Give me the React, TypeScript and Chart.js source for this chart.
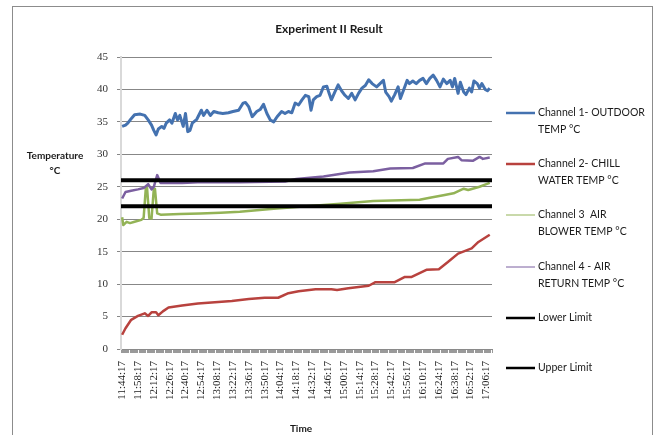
import React, { useEffect, useRef } from "react";
import { Chart, registerables } from "chart.js";

Chart.register(...registerables);

// x values are minutes after 11:44:17
const tickLabels = [
  "11:44:17", "11:58:17", "12:12:17", "12:26:17", "12:40:17", "12:54:17",
  "13:08:17", "13:22:17", "13:36:17", "13:50:17", "14:04:17", "14:18:17",
  "14:32:17", "14:46:17", "15:00:17", "15:14:17", "15:28:17", "15:42:17",
  "15:56:17", "16:10:17", "16:24:17", "16:38:17", "16:52:17", "17:06:17",
];

const ch1Min = [
  0, 3, 5, 8, 11, 16, 20, 23, 26, 28, 30, 32, 35, 37, 39, 42, 44, 47, 49, 51,
  54, 56, 58, 60, 62, 66, 70, 72, 75, 78, 81, 85, 89, 94, 98, 103, 107, 109, 112, 115,
  119, 122, 125, 128, 131, 134, 137, 141, 144, 147, 150, 153, 156, 159, 162, 165, 167, 169, 172, 175,
  178, 181, 183, 185, 188, 191, 194, 197, 200, 203, 206, 209, 212, 215, 218, 221, 225, 228, 231, 233,
  236, 238, 241, 244, 246, 249, 252, 254, 257, 260, 263, 266, 269, 272, 275, 278, 281, 284, 287, 290,
  292, 294, 297, 299, 302, 304, 307, 309, 311, 314, 316, 318, 321, 323, 325,
];
const ch1Val = [
  34.3, 34.5, 34.8, 35.5, 36.1, 36.2, 36.0, 35.3, 34.5, 33.7, 33.0, 33.9, 34.3, 34.0, 34.8, 35.3, 34.8, 36.3, 35.3, 36.0,
  34.3, 36.3, 33.5, 33.7, 34.8, 35.4, 36.8, 36.0, 36.8, 36.0, 36.6, 36.4, 36.3, 36.4, 36.6, 36.8, 37.9, 38.0, 37.3, 35.8,
  36.6, 36.9, 37.7, 36.3, 35.3, 35.0, 35.8, 36.6, 36.3, 36.6, 36.4, 37.9, 37.6, 38.4, 39.1, 38.9, 36.8, 38.4, 38.9, 39.1,
  40.4, 40.5, 39.4, 38.4, 39.6, 40.7, 39.8, 39.1, 38.6, 39.4, 38.4, 39.4, 40.2, 40.6, 41.5, 40.9, 40.4, 40.9, 41.4, 39.6,
  38.9, 38.2, 39.2, 40.4, 38.6, 40.0, 41.4, 40.9, 41.3, 40.9, 41.4, 41.7, 40.9, 41.7, 42.2, 41.4, 40.4, 41.6, 40.9, 41.4,
  40.4, 41.7, 39.4, 41.1, 39.6, 39.2, 40.2, 39.6, 41.3, 40.9, 40.2, 40.9, 40.0, 39.8, 40.2,
];

const ch2Min = [
  0, 3, 8, 14, 20, 23, 26, 30, 32, 36, 41, 53, 67, 82, 97, 112, 126, 138, 147, 156,
  171, 185, 190, 200, 218, 224, 241, 250, 256, 269, 280, 288, 297, 309, 315, 325,
];
const ch2Val = [
  2.2, 3.2, 4.5, 5.1, 5.5, 5.1, 5.65, 5.65, 5.2, 5.8, 6.4, 6.7, 7.0, 7.2, 7.4, 7.7, 7.9, 7.9, 8.6, 8.9,
  9.2, 9.2, 9.1, 9.35, 9.75, 10.3, 10.3, 11.1, 11.1, 12.2, 12.3, 13.4, 14.7, 15.5, 16.5, 17.6,
];

const ch3Min = [
  0, 1, 4, 7, 11, 17, 19, 21, 22, 24, 26, 28, 29, 31, 34, 51, 69, 87, 104, 134,
  163, 193, 222, 263, 272, 284, 293, 302, 306, 316, 322, 325,
];
const ch3Val = [
  20.3, 19.1, 19.6, 19.4, 19.6, 19.9, 20.2, 24.9, 24.9, 20.2, 20.1, 24.7, 24.7, 20.9, 20.7, 20.8, 20.9, 21.0, 21.15, 21.6,
  22.0, 22.4, 22.8, 23.0, 23.3, 23.7, 24.0, 24.7, 24.5, 25.0, 25.4, 25.6,
];

const ch4Min = [
  0, 3, 8, 14, 19, 23, 26, 28, 31, 34, 41, 53, 67, 82, 104, 144, 154, 178, 201, 222,
  237, 257, 268, 284, 288, 297, 300, 310, 316, 319, 325,
];
const ch4Val = [
  23.2, 24.2, 24.4, 24.6, 24.8, 25.4, 24.6, 25.0, 26.8, 25.6, 25.6, 25.6, 25.7, 25.75, 25.7, 25.8, 26.2, 26.6, 27.2, 27.4,
  27.8, 27.9, 28.6, 28.6, 29.3, 29.6, 29.1, 29.0, 29.6, 29.3, 29.5,
];

const limitMin = [-1, 327];
const lowerVal = [22, 22];
const upperVal = [26, 26];

const legendItems = [
  { lines: ["Channel 1- OUTDOOR", "TEMP °C"], color: "#4472B0", width: 2.5 },
  { lines: ["Channel 2- CHILL", "WATER TEMP °C"], color: "#B8423E", width: 2.5 },
  { lines: ["Channel 3  AIR", "BLOWER TEMP °C"], color: "#93B356", width: 1 },
  { lines: ["Channel 4 - AIR", "RETURN TEMP °C"], color: "#7B5FA0", width: 1 },
  { lines: ["Lower Limit"], color: "#000000", width: 2.5 },
  { lines: ["Upper Limit"], color: "#000000", width: 2.5 },
];
const legendY = [113, 164, 215, 267, 318, 368];

const pts = (xs: number[], ys: number[]) => xs.map((x, i) => ({ x, y: ys[i] }));

const decorPlugin = {
  id: "decor",
  afterDraw(chart: any) {
    const ctx = chart.ctx as CanvasRenderingContext2D;
    ctx.save();
    // outer border
    ctx.strokeStyle = "#8c8c8c";
    ctx.lineWidth = 1;
    ctx.strokeRect(12.5, 6.5, 640, 440);
    // title
    ctx.fillStyle = "#1a1a1a";
    ctx.textAlign = "center";
    ctx.textBaseline = "middle";
    ctx.font = "bold 12px Lato";
    ctx.fillText("Experiment II Result", 329, 29);
    // axis titles
    ctx.font = "bold 10px Lato";
    ctx.fillText("Temperature", 55, 156);
    ctx.fillText("°C", 55, 171);
    ctx.fillText("Time", 301, 429);
    // legend
    ctx.textAlign = "left";
    ctx.font = "10.5px Lato";
    legendItems.forEach((it, i) => {
      const y = legendY[i];
      ctx.strokeStyle = it.color;
      ctx.lineWidth = it.width;
      ctx.beginPath();
      ctx.moveTo(506, y);
      ctx.lineTo(535, y);
      ctx.stroke();
      it.lines.forEach((t, j) => {
        ctx.fillStyle = "#1a1a1a";
        ctx.fillText(t, 538, y + j * 17);
      });
    });
    ctx.restore();
  },
};

export default function App() {
  const ref = useRef<HTMLCanvasElement | null>(null);
  useEffect(() => {
    if (!ref.current) return;
    const chart = new Chart(ref.current, {
      type: "line",
      data: {
        datasets: [
          { label: "Channel 1- OUTDOOR TEMP °C", data: pts(ch1Min, ch1Val), borderColor: "#4472B0", borderWidth: 3, order: 5 },
          { label: "Channel 2- CHILL WATER TEMP °C", data: pts(ch2Min, ch2Val), borderColor: "#B8423E", borderWidth: 2.5, order: 4 },
          { label: "Channel 3  AIR BLOWER TEMP °C", data: pts(ch3Min, ch3Val), borderColor: "#93B356", borderWidth: 2.5, order: 3 },
          { label: "Channel 4 - AIR RETURN TEMP °C", data: pts(ch4Min, ch4Val), borderColor: "#7B5FA0", borderWidth: 2.5, order: 2 },
          { label: "Lower Limit", data: pts(limitMin, lowerVal), borderColor: "#000000", borderWidth: 4, order: 1 },
          { label: "Upper Limit", data: pts(limitMin, upperVal), borderColor: "#000000", borderWidth: 4, order: 0 },
        ].map((d) => ({ ...d, pointRadius: 0, tension: 0, fill: false, borderJoinStyle: "round" as const })),
      },
      options: {
        animation: false,
        responsive: false,
        devicePixelRatio: 1,
        layout: { padding: { left: 0, right: 661 - 492, top: 57, bottom: 0 } },
        plugins: {
          legend: { display: false },
          title: { display: false },
          tooltip: { enabled: false },
        },
        scales: {
          x: {
            type: "linear",
            min: -1,
            max: 327,
            afterFit: (s: any) => { s.height = 435 - 349; },
            grid: { drawOnChartArea: false, drawTicks: true, tickLength: 4, color: "#9a9a9a" },
            border: { color: "#8a8a8a", width: 1 },
            ticks: {
              stepSize: 1,
              autoSkip: false,
              maxRotation: 90,
              minRotation: 90,
              padding: 8,
              color: "#1a1a1a",
              font: { family: "'Liberation Serif', serif", size: 11 },
              callback: (v: any) => {
                const n = Number(v);
                if (n >= 0 && n % 14 === 0 && n / 14 < tickLabels.length) return tickLabels[n / 14];
                return "";
              },
            },
          },
          y: {
            min: 0,
            max: 45,
            afterFit: (s: any) => { s.width = 121; },
            grid: { color: "#878787", lineWidth: 1, tickLength: 4 },
            border: { color: "#d9d9d9", width: 2 },
            ticks: {
              stepSize: 5,
              padding: 9,
              color: "#333333",
              font: { family: "'Liberation Serif', serif", size: 11 },
            },
          },
        },
      },
      plugins: [decorPlugin],
    });
    return () => chart.destroy();
  }, []);
  return (
    <div style={{ position: "fixed", left: 0, top: 0, width: 661, height: 435, background: "#fff" }}>
      <canvas ref={ref} width={661} height={435} style={{ width: 661, height: 435, display: "block" }} />
    </div>
  );
}
